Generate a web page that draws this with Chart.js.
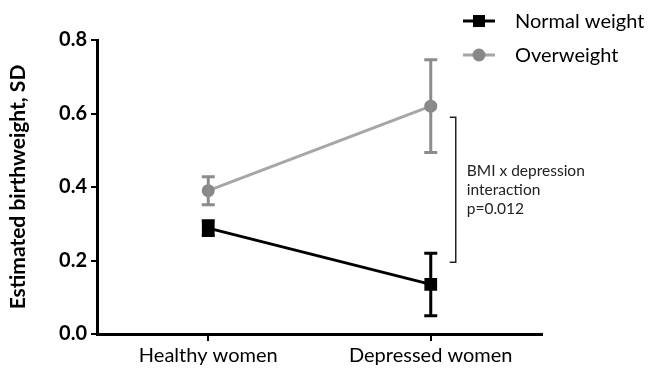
<!DOCTYPE html>
<html>
<head>
<meta charset="utf-8">
<script src="https://cdn.jsdelivr.net/npm/chart.js@4"></script>
<style>
  html, body { margin: 0; padding: 0; background: #fff; }
  #wrap { width: 649px; height: 371px; position: relative; }
</style>
</head>
<body>
<div id="wrap"><canvas id="bwChart"></canvas></div>
<script>
// Data
const categories = ['Healthy women', 'Depressed women'];
const normalWeight = [0.288, 0.135];
const normalWeightErr = [0.02, 0.085];
const overweight = [0.39, 0.62];
const overweightErr = [0.038, 0.126];
const seriesLabels = ['Normal weight', 'Overweight'];
const bracketRange = [0.195, 0.59];
const noteLines = ['BMI x depression', 'interaction', 'p=0.012'];

const FONT = 'Lato, "Open Sans", sans-serif';
const errors = [normalWeightErr, overweightErr];

// error bars, drawn from the y scale
const errorBars = {
    id: 'errorBars',
    afterDatasetsDraw(chart) {
        const ctx = chart.ctx;
        const y = chart.scales.y;
        chart.data.datasets.forEach(function (ds, i) {
            const meta = chart.getDatasetMeta(i);
            ctx.save();
            ctx.strokeStyle = ds.errColor;
            ctx.lineWidth = 3;
            meta.data.forEach(function (pt, j) {
                const v = ds.data[j], e = errors[i][j];
                const top = y.getPixelForValue(v + e), bot = y.getPixelForValue(v - e);
                ctx.beginPath();
                ctx.moveTo(pt.x, top); ctx.lineTo(pt.x, bot);
                ctx.moveTo(pt.x - 6.5, top); ctx.lineTo(pt.x + 6.5, top);
                ctx.moveTo(pt.x - 6.5, bot); ctx.lineTo(pt.x + 6.5, bot);
                ctx.stroke();
            });
            ctx.restore();
        });
    }
};

// legend + interaction bracket
const extras = {
    id: 'extras',
    afterDraw(chart) {
        const ctx = chart.ctx;
        const x = chart.scales.x, y = chart.scales.y;
        ctx.save();
        // legend
        chart.data.datasets.forEach(function (ds, i) {
            const ly = 21 + i * 34;
            ctx.strokeStyle = ds.borderColor;
            ctx.lineWidth = 3;
            ctx.beginPath();
            ctx.moveTo(463, ly); ctx.lineTo(495, ly);
            ctx.stroke();
            ctx.fillStyle = ds.pointBackgroundColor;
            if (ds.pointStyle === 'rect') {
                ctx.fillRect(479 - 6, ly - 6, 12, 12);
            } else {
                ctx.beginPath();
                ctx.arc(479, ly, 6.5, 0, Math.PI * 2);
                ctx.fill();
            }
            ctx.fillStyle = '#000';
            ctx.font = '20px ' + FONT;
            ctx.textBaseline = 'middle';
            ctx.textAlign = 'left';
            ctx.fillText(ds.label, 515, ly + 1);
        });
        // bracket
        const bx = x.getPixelForValue(1) + 25;
        const bt = y.getPixelForValue(bracketRange[1]);
        const bb = y.getPixelForValue(bracketRange[0]);
        ctx.strokeStyle = '#222';
        ctx.lineWidth = 1.5;
        ctx.beginPath();
        ctx.moveTo(bx - 6, bt); ctx.lineTo(bx, bt); ctx.lineTo(bx, bb); ctx.lineTo(bx - 6, bb);
        ctx.stroke();
        ctx.fillStyle = '#222';
        ctx.font = '15.5px ' + FONT;
        ctx.textBaseline = 'middle';
        noteLines.forEach(function (t, k) {
            ctx.fillText(t, bx + 11, 171 + k * 19);
        });
        ctx.restore();
    }
};

const ctx = document.getElementById('bwChart').getContext('2d');
const bwChart = new Chart(ctx, {
    type: 'line',
    data: {
        labels: categories,
        datasets: [{
            label: seriesLabels[0],
            data: normalWeight,
            borderColor: '#000',
            pointBackgroundColor: '#000',
            pointBorderColor: '#000',
            errColor: '#000',
            pointStyle: 'rect',
            pointRadius: 9,
            pointBorderWidth: 0,
            borderWidth: 3
        }, {
            label: seriesLabels[1],
            data: overweight,
            borderColor: '#a6a6a6',
            pointBackgroundColor: '#888',
            pointBorderColor: '#888',
            errColor: '#8c8c8c',
            pointStyle: 'circle',
            pointRadius: 6.5,
            pointBorderWidth: 0,
            borderWidth: 3
        }]
    },
    options: {
        responsive: true,
        maintainAspectRatio: false,
        animation: false,
        layout: { padding: { top: 40, right: 107, left: 0, bottom: 0 } },
        plugins: {
            legend: { display: false },
            tooltip: { enabled: false }
        },
        scales: {
            x: {
                type: 'category',
                offset: true,
                border: { display: true, color: '#000', width: 3 },
                grid: { display: true, drawOnChartArea: false, drawTicks: true, tickLength: 7, color: '#000', lineWidth: 2, offset: false },
                ticks: { color: '#000', font: { family: FONT, size: 20 }, padding: 3 },
                afterFit(scale) { scale.height = 37; }
            },
            y: {
                min: 0,
                max: 0.8,
                border: { display: true, color: '#000', width: 3 },
                grid: { display: true, drawOnChartArea: false, drawTicks: true, tickLength: 6, color: '#000', lineWidth: 2 },
                ticks: {
                    stepSize: 0.2,
                    color: '#000',
                    font: { family: FONT, size: 20, weight: 'bold' },
                    padding: 4,
                    callback: function (v) { return v.toFixed(1); }
                },
                title: {
                    display: true,
                    text: 'Estimated birthweight, SD',
                    color: '#000',
                    font: { family: FONT, size: 21, weight: 'bold' },
                    padding: { top: 6, bottom: 0 }
                },
                afterFit(scale) { scale.width = 97; }
            }
        }
    },
    plugins: [errorBars, extras]
});
</script>
</body>
</html>
